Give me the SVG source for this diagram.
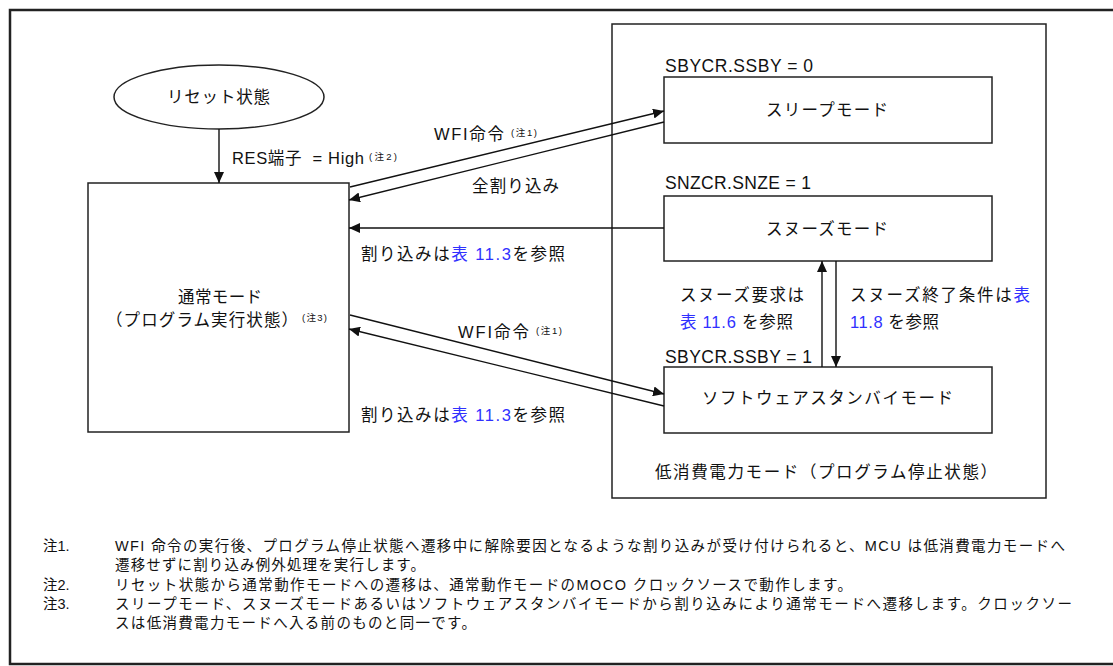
<svg xmlns="http://www.w3.org/2000/svg" width="1113" height="666" viewBox="0 0 1113 666">
<style>
text{font-family:"Liberation Sans","Noto Sans CJK JP",sans-serif;fill:#111;}
.lbl{font-size:16.5px;}
.reg{font-size:17.5px;}
.note{font-size:9.5px;}
.fn{font-size:14.5px;}
.blue{fill:#3030ff;}
.box{fill:#fff;stroke:#222;stroke-width:1.5;}
.conn{stroke:#111;stroke-width:1.4;fill:none;marker-end:url(#ah);}
</style>
<defs>
<marker id="ah" markerUnits="userSpaceOnUse" markerWidth="12" markerHeight="10" refX="11" refY="5" orient="auto">
<path d="M0,0 L11,5 L0,10 Z" fill="#111"/>
</marker>
</defs>
<rect x="10" y="10" width="1110" height="654" fill="#fff" stroke="#222" stroke-width="2.5"/>

<g id="low-power">
<rect class="box" x="612" y="24" width="434" height="474"/>
<text class="lbl" x="655" y="478" textLength="342" lengthAdjust="spacing">低消費電力モード（プログラム停止状態）</text>
</g>

<g id="reset">
<ellipse cx="219" cy="97" rx="105" ry="32" fill="#fff" stroke="#222" stroke-width="1.5"/>
<text class="lbl" x="167" y="103" textLength="103" lengthAdjust="spacing">リセット状態</text>
</g>

<g id="normal">
<rect class="box" x="88" y="183" width="261" height="249"/>
<text class="lbl" x="178" y="303" textLength="84" lengthAdjust="spacing">通常モード</text>
<text class="lbl" x="106" y="326" textLength="192" lengthAdjust="spacing">（プログラム実行状態）</text>
<text class="note" x="302" y="321" textLength="25" lengthAdjust="spacing">(注3)</text>
</g>

<g id="sleep">
<text class="reg" x="665" y="72" textLength="148" lengthAdjust="spacing">SBYCR.SSBY = 0</text>
<rect class="box" x="664" y="77" width="328" height="66"/>
<text class="lbl" x="766" y="116" textLength="122" lengthAdjust="spacing">スリープモード</text>
</g>

<g id="snooze">
<text class="reg" x="665" y="189" textLength="146" lengthAdjust="spacing">SNZCR.SNZE = 1</text>
<rect class="box" x="664" y="196" width="328" height="65"/>
<text class="lbl" x="766" y="235" textLength="122" lengthAdjust="spacing">スヌーズモード</text>
</g>

<g id="software-standby">
<text class="reg" x="665" y="363" textLength="147" lengthAdjust="spacing">SBYCR.SSBY = 1</text>
<rect class="box" x="664" y="367" width="328" height="66"/>
<text class="lbl" x="702" y="404" textLength="251" lengthAdjust="spacing">ソフトウェアスタンバイモード</text>
</g>

<g id="connectors">
<line class="conn" x1="219" y1="129" x2="219" y2="183"/>
<line class="conn" x1="350" y1="187" x2="664" y2="111"/>
<line class="conn" x1="664" y1="122" x2="349" y2="200"/>
<line class="conn" x1="664" y1="228" x2="349" y2="228"/>
<line class="conn" x1="350" y1="315" x2="664" y2="394"/>
<line class="conn" x1="664" y1="406" x2="349" y2="329"/>
<line class="conn" x1="822" y1="367" x2="822" y2="261"/>
<line class="conn" x1="836" y1="261" x2="836" y2="367"/>
</g>

<g id="connector-labels">
<text class="lbl" x="232" y="164" textLength="132" lengthAdjust="spacing">RES端子&#160; = High</text>
<text class="note" x="369" y="160" textLength="28" lengthAdjust="spacing">(注2)</text>
<text class="lbl" x="434" y="140" textLength="70" lengthAdjust="spacing">WFI命令</text>
<text class="note" x="511" y="136" textLength="26" lengthAdjust="spacing">(注1)</text>
<text class="lbl" x="472" y="192" textLength="87" lengthAdjust="spacing">全割り込み</text>
<text class="lbl" x="361" y="260" textLength="204" lengthAdjust="spacing">割り込みは<tspan class="blue">表 11.3</tspan>を参照</text>
<text class="lbl" x="458" y="338" textLength="71" lengthAdjust="spacing">WFI命令</text>
<text class="note" x="536" y="334" textLength="26" lengthAdjust="spacing">(注1)</text>
<text class="lbl" x="361" y="421" textLength="204" lengthAdjust="spacing">割り込みは<tspan class="blue">表 11.3</tspan>を参照</text>
<text class="lbl" x="680" y="301" textLength="124" lengthAdjust="spacing">スヌーズ要求は</text>
<text class="lbl" x="680" y="328" textLength="113" lengthAdjust="spacing"><tspan class="blue">表 11.6</tspan> を参照</text>
<text class="lbl" x="850" y="301" textLength="180" lengthAdjust="spacing">スヌーズ終了条件は<tspan class="blue">表</tspan></text>
<text class="lbl" x="850" y="328" textLength="89" lengthAdjust="spacing"><tspan class="blue">11.8</tspan> を参照</text>
</g>

<g id="footnotes">
<text class="fn" x="43" y="551">注1.</text>
<text class="fn" x="115" y="551" textLength="950" lengthAdjust="spacing">WFI 命令の実行後、プログラム停止状態へ遷移中に解除要因となるような割り込みが受け付けられると、MCU は低消費電力モードへ</text>
<text class="fn" x="115" y="570" textLength="310" lengthAdjust="spacing">遷移せずに割り込み例外処理を実行します。</text>
<text class="fn" x="43" y="590">注2.</text>
<text class="fn" x="115" y="590" textLength="737" lengthAdjust="spacing">リセット状態から通常動作モードへの遷移は、通常動作モードのMOCO クロックソースで動作します。</text>
<text class="fn" x="43" y="609">注3.</text>
<text class="fn" x="115" y="609" textLength="957" lengthAdjust="spacing">スリープモード、スヌーズモードあるいはソフトウェアスタンバイモードから割り込みにより通常モードへ遷移します。クロックソー</text>
<text class="fn" x="115" y="628" textLength="361" lengthAdjust="spacing">スは低消費電力モードへ入る前のものと同一です。</text>
</g>
</svg>
